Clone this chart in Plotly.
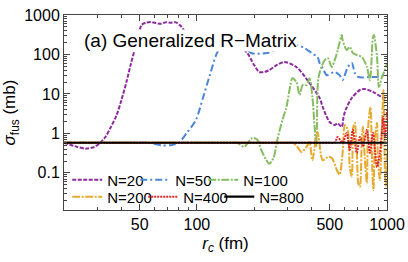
import plotly.graph_objects as go

# ---------------- data ----------------
x20 = [20, 23, 26, 29, 31, 33, 35.1, 37.8, 40.1, 42.6, 44.8, 47, 49.3, 51.2, 54, 57.1, 60.5, 64.5, 68.5,
       72.8, 77.5, 82.3, 86, 95, 120, 150, 170, 184, 200, 213, 226, 240, 265, 289, 334, 391, 442, 459,
       499, 531, 550, 578, 591, 605, 653, 720, 765, 844, 953, 1000]
y20 = [0.58, 0.47, 0.41, 0.46, 0.58, 0.81, 1.38, 2.9, 7.0, 20, 54, 130, 310, 560, 640, 665, 630, 600, 650,
       640, 650, 525, 400, 300, 250, 200, 150, 109, 54, 36, 36, 40, 55, 64.5, 48, 19, 7.9, 4.7,
       1.95, 1.64, 1.8, 1.47, 2.6, 3.9, 7.9, 12.6, 13.3, 11.3, 7.9, 7.1]

x50 = [20, 30, 40, 50, 55.7, 65.3, 73.8, 80.3, 88.5, 98.8, 107.6, 117, 127.6, 140, 170, 193, 234, 282,
       334, 368, 401, 431, 442, 459, 482, 512, 531, 563, 584, 622, 653, 677, 703, 747, 813, 886, 976, 1000]
y50 = [0.58, 0.58, 0.58, 0.58, 0.58, 0.50, 0.51, 0.58, 1.03, 2.2, 7.9, 30, 109, 200, 200, 109, 109, 155,
       174, 146, 109, 86, 61, 45, 30, 34, 36, 30, 22.5, 48, 61, 34, 27, 26, 27, 27, 30, 30]

x100 = [20, 60, 100, 150, 163, 177, 196, 208, 218, 232, 240, 253, 265, 282, 296, 307, 318, 334, 347, 360,
        378, 391, 405, 416, 424, 428, 437, 470, 488, 512, 531, 551, 578, 584, 614, 637, 661, 694, 737,
        784, 813, 844, 853, 886, 907, 941, 976, 1000]
y100 = [0.58, 0.58, 0.58, 0.58, 0.58, 0.46, 0.77, 0.69, 0.38, 0.21, 0.17, 0.24, 0.69, 2.2, 4.7, 12.6, 25,
        20, 9.4, 16.9, 16.9, 25, 8.4, 1.47, 0.46, 1.47, 27, 72, 81, 48, 72, 130, 312, 233, 130, 155, 109,
        97, 86, 48, 22.5, 277, 312, 86, 15, 27, 40.6, 61]

x200 = [20, 100, 200, 300, 318, 337, 355, 378, 391, 405, 431, 459, 488, 512, 544, 563, 584, 600, 622, 637,
        653, 665, 677, 694, 706, 720, 737, 747, 765, 784, 794, 818, 839, 849, 866, 886, 896, 918, 941,
        958, 976, 988, 1000]
y200 = [0.58, 0.58, 0.58, 0.58, 0.58, 0.46, 0.34, 0.46, 0.61, 0.21, 1.09, 0.21, 0.25, 0.24, 0.12, 0.09,
        0.32, 1.64, 1.23, 0.14, 0.08, 1.47, 1.86, 0.32, 0.055, 0.044, 0.69, 1.47, 0.21, 0.055, 1.23, 4.7,
        0.08, 0.037, 0.83, 1.86, 0.21, 0.066, 1.47, 12.6, 0.1, 0.044, 0.38]

x400 = [20, 100, 300, 500, 530, 550, 584, 614, 637, 661, 694, 720, 747, 784, 813, 844, 886, 918, 941, 953,
        976, 1000]
y400 = [0.58, 0.58, 0.58, 0.58, 0.58, 0.81, 0.58, 1.03, 0.38, 1.23, 0.32, 0.81, 0.46, 1.23, 0.32, 1.03,
        0.14, 0.32, 1.23, 2.6, 0.81, 3.9]

x800 = [20, 50, 100, 200, 500, 1000]
y800 = [0.58, 0.58, 0.58, 0.58, 0.58, 0.58]

# name, x, y, colour, dash, legend, legend entry width
series = [
    ("N=20", x20, y20, "#8C2A9E", "4px,1.5px", "legend", 23),
    ("N=50", x50, y50, "#4A86DA", "7px,3px,2px,3px", "legend", 23),
    ("N=100", x100, y100, "#86BC62", "8px,1.5px,2px,1.5px", "legend", 50),
    ("N=200", x200, y200, "#E6AA2E", "8px,1.5px,2px,1.5px", "legend2", 31),
    ("N=400", x400, y400, "#E0242A", "2px,1px", "legend2", 31),
    ("N=800", x800, y800, "#000000", "solid", "legend2", 50),
]

x_major = [50, 100, 500, 1000]
x_minor = [20, 30, 40, 60, 70, 80, 90, 200, 300, 400, 600, 700, 800, 900]
y_major = [0.1, 1, 10, 100, 1000]
y_major_text = ["0.1", "1", "10", "100", "1000"]
y_minor = [m * 10 ** e for e in (-2, -1, 0, 1, 2) for m in range(2, 10)]

FONT = "Liberation Sans, Arial, sans-serif"

fig = go.Figure()
for name, xs, ys, col, dash, leg, lw in series:
    fig.add_trace(go.Scatter(
        x=xs, y=ys, name=name, mode="lines", legend=leg, legendwidth=lw,
        line=dict(color=col, width=2 if name != "N=800" else 2.2, dash=dash, shape="spline", smoothing=0.8),
    ))

axis_common = dict(
    type="log", showgrid=False, zeroline=False, automargin=False,
    showline=True, linecolor="#444", linewidth=1, mirror="allticks",
    ticks="inside", ticklen=6, tickcolor="#444", tickwidth=1,
    tickfont=dict(family=FONT, size=16, color="black"),
)

fig.update_layout(
    width=408, height=262,
    margin=dict(l=64, r=21, t=15, b=52),
    paper_bgcolor="white", plot_bgcolor="white",
    font=dict(family=FONT, color="black"),
    xaxis=dict(
        **axis_common, range=[1.30103, 3],
        tickvals=x_major, ticktext=[str(v) for v in x_major],
        minor=dict(tickvals=x_minor, ticks="inside", ticklen=3, tickcolor="#444"),
        title=dict(text="<i>r</i><sub><i>c</i></sub> (fm)", font=dict(family=FONT, size=17), standoff=4),
    ),
    yaxis=dict(
        **axis_common, range=[-1.94, 3],
        tickvals=y_major, ticktext=y_major_text,
        minor=dict(tickvals=y_minor, ticks="inside", ticklen=3, tickcolor="#444"),
        title=dict(text="<i>σ</i><sub>fus</sub> (mb)", font=dict(family=FONT, size=17), standoff=4),
    ),
    legend=dict(orientation="h", x=0.01, xanchor="left", y=0.154, yanchor="middle",
                bgcolor="rgba(0,0,0,0)", font=dict(family=FONT, size=15),
                tracegroupgap=0, itemclick=False),
    legend2=dict(orientation="h", x=0.01, xanchor="left", y=0.067, yanchor="middle",
                 bgcolor="rgba(0,0,0,0)", font=dict(family=FONT, size=15),
                 tracegroupgap=0, itemclick=False),
    showlegend=True,
    hovermode=False,
    annotations=[dict(
        text="(a) Generalized R\u2212Matrix", xref="paper", yref="paper",
        x=0.059, y=0.867, xanchor="left", yanchor="middle", showarrow=False,
        font=dict(family=FONT, size=19, color="black"), bgcolor="white", borderpad=0,
    )],
)

fig.write_html("out.html", config={"displayModeBar": False, "staticPlot": False})

# remove the browser's default page margin so the figure sits at the window's top-left corner
with open("out.html", encoding="utf-8") as f:
    html = f.read()
html = html.replace("<head>", "<head><style>html,body{margin:0;padding:0;overflow:hidden;}</style>", 1)
with open("out.html", "w", encoding="utf-8") as f:
    f.write(html)
